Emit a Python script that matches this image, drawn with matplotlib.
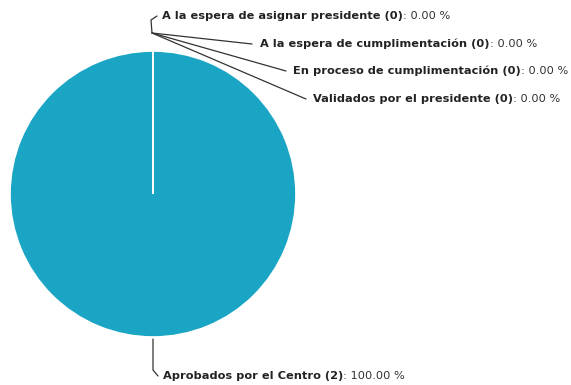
import matplotlib.pyplot as plt

# Estado de los expedientes
estados = ["A la espera de asignar presidente",
           "A la espera de cumplimentación",
           "En proceso de cumplimentación",
           "Validados por el presidente",
           "Aprobados por el Centro"]
cantidades = [0, 0, 0, 0, 2]

W, H = 571, 385
fig = plt.figure(figsize=(W / 100, H / 100), dpi=100)
ax = fig.add_axes([0, 0, 1, 1])

cx, cy, r = 153, H - 194, 143
wedges, _ = ax.pie(cantidades, startangle=90, counterclock=False, center=(cx, cy),
                   radius=r, colors=["#1aa5c5"] * len(cantidades),
                   wedgeprops=dict(edgecolor="white", linewidth=1.2), frame=True)
# las porciones vacías quedan como un borde blanco encima de la llena
for w, n in zip(wedges, cantidades):
    if n == 0:
        w.set_zorder(3)
ax.set_xlim(0, W)
ax.set_ylim(0, H)
ax.axis("off")

# posiciones de las etiquetas (x texto, y texto) y trazado del conector
etiquetas = [
    (162, H - 16, [(152, H - 33), (151, H - 20), (157, H - 16)]),
    (260, H - 44, [(152, H - 33), (252, H - 44)]),
    (293, H - 71, [(152, H - 33), (286, H - 71)]),
    (313, H - 99, [(152, H - 33), (306, H - 99)]),
    (163, H - 376, [(153, H - 339), (153, H - 370), (158, H - 376)]),
]

total = sum(cantidades)
for nombre, n, (tx, ty, pts) in zip(estados, cantidades, etiquetas):
    xs, ys = zip(*pts)
    ax.plot(xs, ys, color="#333333", lw=0.9, solid_capstyle="round")
    t = ax.text(tx, ty, f"{nombre} ({n})", fontsize=8.2, fontweight="bold",
                color="#222222", va="center", ha="left")
    ax.annotate(f": {100 * n / total:.2f} %", xy=(1, 0.5), xycoords=t,
                fontsize=8.2, color="#333333", va="center", ha="left")

fig.savefig("out.png", dpi=100, facecolor="white")
